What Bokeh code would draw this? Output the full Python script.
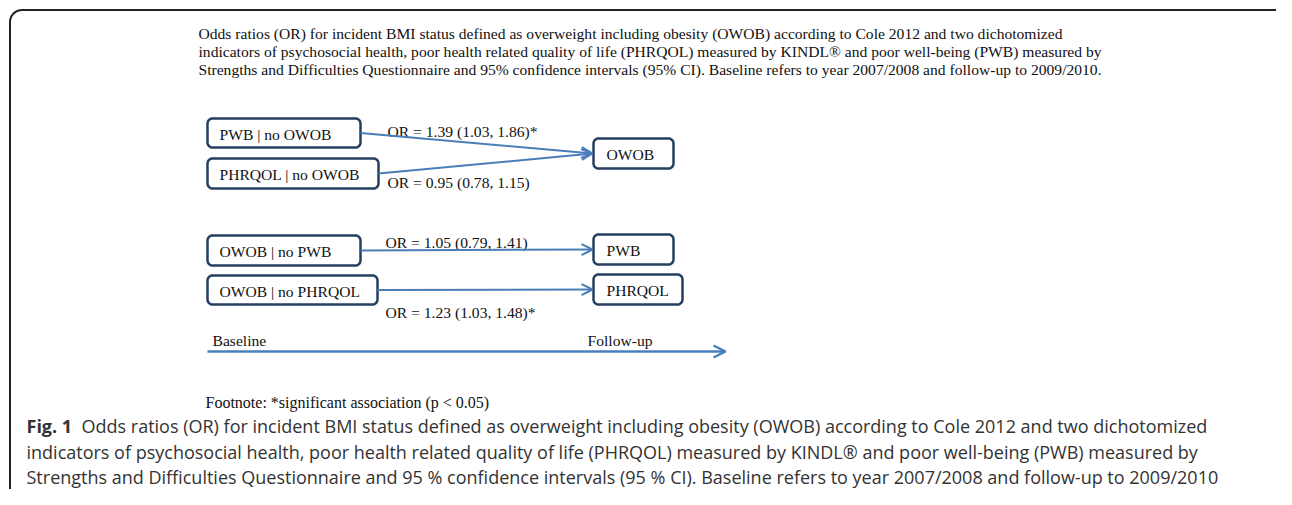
import numpy as np
from bokeh.plotting import figure
from bokeh.models import Range1d, Arrow, OpenHead
from bokeh.core.properties import value
from bokeh.embed import file_html
from bokeh.resources import INLINE

# ---------------- data ----------------
source_labels = ["PWB | no OWOB", "PHRQOL | no OWOB", "OWOB | no PWB", "OWOB | no PHRQOL"]
target_labels = ["OWOB", "OWOB", "PWB", "PHRQOL"]
odds_ratios = [1.39, 0.95, 1.05, 1.23]
ci_lower = [1.03, 0.78, 0.79, 1.03]
ci_upper = [1.86, 1.15, 1.41, 1.48]
significant = [True, False, False, True]

title_lines = [
    "Odds ratios (OR) for incident BMI  status defined as overweight including obesity (OWOB) according to Cole 2012 and two dichotomized",
    "indicators of psychosocial health, poor health related quality of life (PHRQOL) measured by KINDL\u00ae and poor well-being (PWB) measured by",
    "Strengths and Difficulties Questionnaire and 95% confidence intervals (95% CI). Baseline refers to year 2007/2008 and follow-up to 2009/2010.",
]
timeline_labels = ["Baseline", "Follow-up"]
footnote = "Footnote: *significant association (p < 0.05)"
caption_bold = "Fig. 1"
caption_lines = [
    "Odds ratios (OR) for incident BMI status defined as overweight including obesity (OWOB) according to Cole 2012 and two dichotomized",
    "indicators of psychosocial health, poor health related quality of life (PHRQOL) measured by KINDL\u00ae and poor well-being (PWB) measured by",
    "Strengths and Difficulties Questionnaire and 95 % confidence intervals (95 % CI). Baseline refers to year 2007/2008 and follow-up to 2009/2010",
]

# ---------------- layout (pixel-like coordinates) ----------------
W, H = 1276, 489
src_boxes = [(207, 118, 360, 147), (207, 158, 378, 188), (207, 235, 360, 265), (207, 275, 377, 304)]
tgt_boxes = {"OWOB": (593, 138, 673, 168), "PWB": (593, 234, 673, 264), "PHRQOL": (593, 274, 682, 304)}
or_label_pos = [(387, 131), (387, 182), (385, 242), (385, 312)]

SERIF = value("Liberation Serif")
SERIF_SIZE = "15.6px"
BOX_COLOR = "#243F60"
ARROW_COLOR = "#4A7EBB"
TEXT_COLOR = "#111111"

p = figure(width=W, height=H, output_backend="svg", toolbar_location=None,
           x_range=Range1d(0, W), y_range=Range1d(H, 0),
           min_border=0, outline_line_color=None)
p.axis.visible = False
p.grid.visible = False
p.background_fill_color = "white"
p.border_fill_color = "white"


def rrect(x0, y0, x1, y1, r, n=10):
    xs, ys = [], []
    corners = [(x1 - r, y0 + r, -90, 0), (x1 - r, y1 - r, 0, 90),
               (x0 + r, y1 - r, 90, 180), (x0 + r, y0 + r, 180, 270)]
    for cx, cy, a0, a1 in corners:
        t = np.radians(np.linspace(a0, a1, n))
        xs.extend(cx + r * np.cos(t))
        ys.extend(cy + r * np.sin(t))
    return xs, ys


# outer frame
fx, fy = rrect(9.5, 9.5, 1290, 560, 12)
p.patch(fx, fy, fill_color=None, line_color="#222222", line_width=2)

# top description text
p.text(x=[198] * 3, y=[33, 51, 69], text=title_lines, text_font=SERIF,
       text_font_size=SERIF_SIZE, text_baseline="middle", text_align="left", text_color=TEXT_COLOR)

# arrows between boxes
for i, (bx0, by0, bx1, by1) in enumerate(src_boxes):
    tx0, ty0, tx1, ty1 = tgt_boxes[target_labels[i]]
    ys = (by0 + by1) / 2
    ye = (ty0 + ty1) / 2
    p.add_layout(Arrow(end=OpenHead(size=11, line_color=ARROW_COLOR, line_width=2),
                       x_start=bx1, y_start=ys, x_end=tx0 - 1, y_end=ye,
                       line_color=ARROW_COLOR, line_width=2))

# boxes
all_boxes = src_boxes + list(tgt_boxes.values())
bxs, bys = [], []
for b in all_boxes:
    xs, ys = rrect(*b, r=5)
    bxs.append(xs)
    bys.append(ys)
p.patches(bxs, bys, fill_color="white", line_color=BOX_COLOR, line_width=2.5)

# box labels
p.text(x=[b[0] + 12 for b in src_boxes], y=[(b[1] + b[3]) / 2 + 1 for b in src_boxes],
       text=source_labels, text_font=SERIF, text_font_size=SERIF_SIZE,
       text_baseline="middle", text_align="left", text_color=TEXT_COLOR)
tnames = list(tgt_boxes.keys())
p.text(x=[tgt_boxes[n][0] + 13 for n in tnames], y=[(tgt_boxes[n][1] + tgt_boxes[n][3]) / 2 + 1 for n in tnames],
       text=tnames, text_font=SERIF, text_font_size=SERIF_SIZE,
       text_baseline="middle", text_align="left", text_color=TEXT_COLOR)

# OR labels
or_texts = [f"OR = {o:.2f} ({lo:.2f}, {hi:.2f})" + ("*" if s else "")
            for o, lo, hi, s in zip(odds_ratios, ci_lower, ci_upper, significant)]
p.text(x=[q[0] for q in or_label_pos], y=[q[1] for q in or_label_pos], text=or_texts,
       text_font=SERIF, text_font_size=SERIF_SIZE, text_baseline="middle", text_align="left",
       text_color=TEXT_COLOR)

# timeline
p.add_layout(Arrow(end=OpenHead(size=12, line_color=ARROW_COLOR, line_width=2.5),
                   x_start=207, y_start=351, x_end=725, y_end=351,
                   line_color=ARROW_COLOR, line_width=2.5))
p.text(x=[212, 587], y=[340, 340], text=timeline_labels, text_font=SERIF,
       text_font_size=SERIF_SIZE, text_baseline="middle", text_align="left", text_color=TEXT_COLOR)

# footnote
p.text(x=[205], y=[402], text=[footnote], text_font=SERIF, text_font_size="16px",
       text_baseline="middle", text_align="left", text_color=TEXT_COLOR)

# caption
CAP_Y = [425, 451, 476]
p.text(x=[26], y=[CAP_Y[0]], text=[caption_bold], text_font=value("Open Sans"), text_font_size="18px",
       text_font_style="bold", text_baseline="middle", text_align="left", text_color="#333333")
p.text(x=[81, 26, 26], y=CAP_Y, text=caption_lines, text_font=value("Open Sans"),
       text_font_size="18px", text_baseline="middle", text_align="left", text_color="#333333")

open("out.html", "w").write(file_html(p, INLINE))
